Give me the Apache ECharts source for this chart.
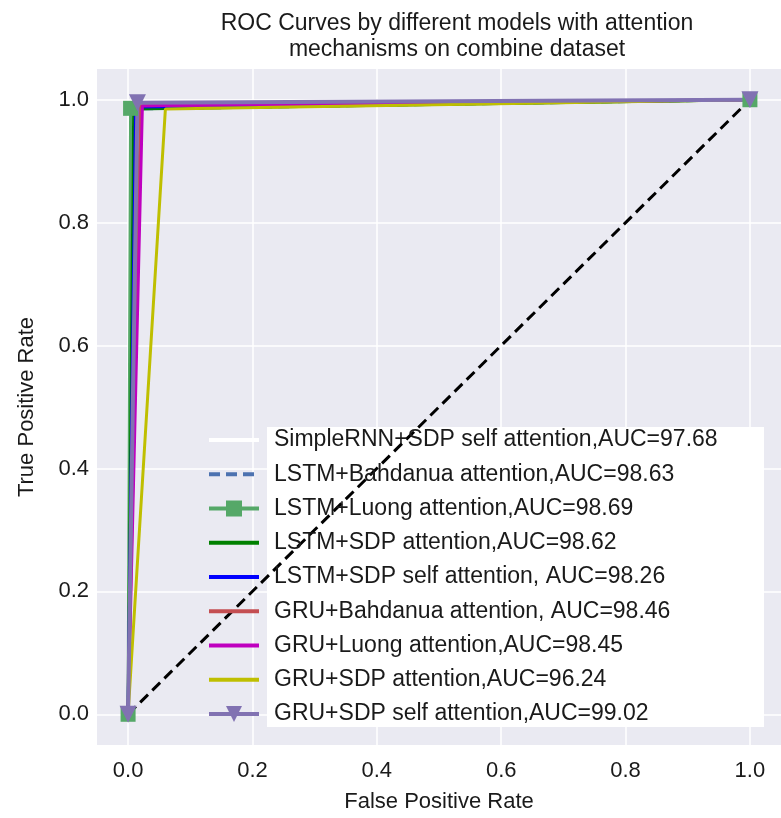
<!DOCTYPE html>
<html>
<head>
<meta charset="utf-8">
<script src="https://cdn.jsdelivr.net/npm/echarts@6/dist/echarts.min.js"></script>
<style>
  html, body { margin: 0; padding: 0; background: #fff; }
  #chart { width: 781px; height: 818px; }
</style>
</head>
<body>
<div id="chart"></div>
<script>
// ROC points per model: [fpr, tpr]
const modelNames = [
  'SimpleRNN+SDP self attention,AUC=97.68',
  'LSTM+Bahdanua attention,AUC=98.63',
  'LSTM+Luong attention,AUC=98.69',
  'LSTM+SDP attention,AUC=98.62',
  'LSTM+SDP self attention, AUC=98.26',
  'GRU+Bahdanua attention, AUC=98.46',
  'GRU+Luong attention,AUC=98.45',
  'GRU+SDP attention,AUC=96.24',
  'GRU+SDP self attention,AUC=99.02'
];
const simpleRnnSdpSelf = [[0, 0], [0.017, 0.988], [1, 1]];
const lstmBahdanau = [[0, 0], [0.012, 0.985], [1, 1]];
const lstmLuong = [[0, 0], [0.004, 0.986], [1, 1]];
const lstmSdp = [[0, 0], [0.009, 0.985], [1, 1]];
const lstmSdpSelf = [[0, 0], [0.012, 0.988], [1, 1]];
const gruBahdanau = [[0, 0], [0.02, 0.99], [1, 1]];
const gruLuong = [[0, 0], [0.023, 0.99], [1, 1]];
const gruSdp = [[0, 0], [0.06, 0.985], [1, 1]];
const gruSdpSelf = [[0, 0], [0.015, 0.995], [1, 1]];
const chanceLine = [[0, 0], [1, 1]];
const tickValues = [0, 0.2, 0.4, 0.6, 0.8, 1.0];
// which models are drawn with markers (others get a plain line in the legend)
const withMarkers = [modelNames[2], modelNames[8]];

const font = 'Liberation Sans, Arial, sans-serif';

function roc(name, data, color, extra) {
  return Object.assign({
    name: name,
    type: 'line',
    data: data,
    symbol: 'none',
    animation: false,
    lineStyle: { color: color, width: 3 },
    itemStyle: { color: color }
  }, extra || {});
}

let legendItems = modelNames.map(n => withMarkers.indexOf(n) >= 0
  ? { name: n }
  : { name: n, itemStyle: { color: 'rgba(0,0,0,0)', borderWidth: 0 } });

let chart = echarts.init(document.getElementById('chart'), null, { renderer: 'canvas' });

chart.setOption({
  backgroundColor: '#ffffff',
  animation: false,
  title: {
    text: 'ROC Curves by different models with attention\nmechanisms on combine dataset',
    left: 452,
    top: 6,
    textAlign: 'center',
    textStyle: { fontFamily: font, fontSize: 23, fontWeight: 'normal', color: '#1a1a1a', lineHeight: 26 }
  },
  grid: { left: 97, right: -5, top: 69, bottom: 73, show: true, backgroundColor: '#EAEAF2', borderWidth: 0 },
  xAxis: {
    type: 'value', min: -0.05, max: 1.05,
    name: 'False Positive Rate', nameLocation: 'middle', nameGap: 46,
    nameTextStyle: { fontFamily: font, fontSize: 22, color: '#1a1a1a' },
    axisLine: { show: false },
    axisTick: { show: false, customValues: tickValues },
    axisLabel: { customValues: tickValues, formatter: v => v.toFixed(1), margin: 15,
      fontFamily: font, fontSize: 22, color: '#1a1a1a' },
    splitLine: { show: true, lineStyle: { color: '#ffffff', width: 1.5 } }
  },
  yAxis: {
    type: 'value', min: -0.05, max: 1.05,
    name: 'True Positive Rate', nameLocation: 'middle', nameGap: 59,
    nameTextStyle: { fontFamily: font, fontSize: 22, color: '#1a1a1a' },
    axisLine: { show: false },
    axisTick: { show: false, customValues: tickValues },
    axisLabel: { customValues: tickValues, formatter: v => v.toFixed(1), margin: 8,
      fontFamily: font, fontSize: 22, color: '#1a1a1a' },
    splitLine: { show: true, lineStyle: { color: '#ffffff', width: 1.5 } }
  },
  graphic: [{
    type: 'rect', z: 3,
    shape: { x: 267, y: 427, width: 497, height: 300 },
    style: { fill: '#ffffff' }
  }],
  legend: {
    orient: 'vertical', left: 207, top: 428, padding: 0,
    itemWidth: 50, itemHeight: 20, itemGap: 10.25,
    selectedMode: false, z: 4,
    data: legendItems,
    lineStyle: { width: 4 },
    textStyle: { fontFamily: font, fontSize: 23, color: '#1a1a1a', lineHeight: 24, padding: [0, 0, 0, 10] }
  },
  series: [
    roc('chance', chanceLine, '#000000', { lineStyle: { color: '#000000', width: 3, type: [11, 6] } }),
    roc(modelNames[0], simpleRnnSdpSelf, '#ffffff'),
    roc(modelNames[1], lstmBahdanau, '#4C72B0', { lineStyle: { color: '#4C72B0', width: 3, type: [11, 6] } }),
    roc(modelNames[2], lstmLuong, '#55A868', { symbol: 'rect', symbolSize: 15, showSymbol: true }),
    roc(modelNames[3], lstmSdp, '#008000'),
    roc(modelNames[4], lstmSdpSelf, '#0000FF'),
    roc(modelNames[5], gruBahdanau, '#C44E52'),
    roc(modelNames[6], gruLuong, '#BF00BF'),
    roc(modelNames[7], gruSdp, '#BFBF00'),
    roc(modelNames[8], gruSdpSelf, '#8172B2', { symbol: 'triangle', symbolRotate: 180, symbolSize: 17, showSymbol: true,
      lineStyle: { color: '#8172B2', width: 4 } })
  ]
});

window.addEventListener('resize', () => chart.resize());
</script>
</body>
</html>
